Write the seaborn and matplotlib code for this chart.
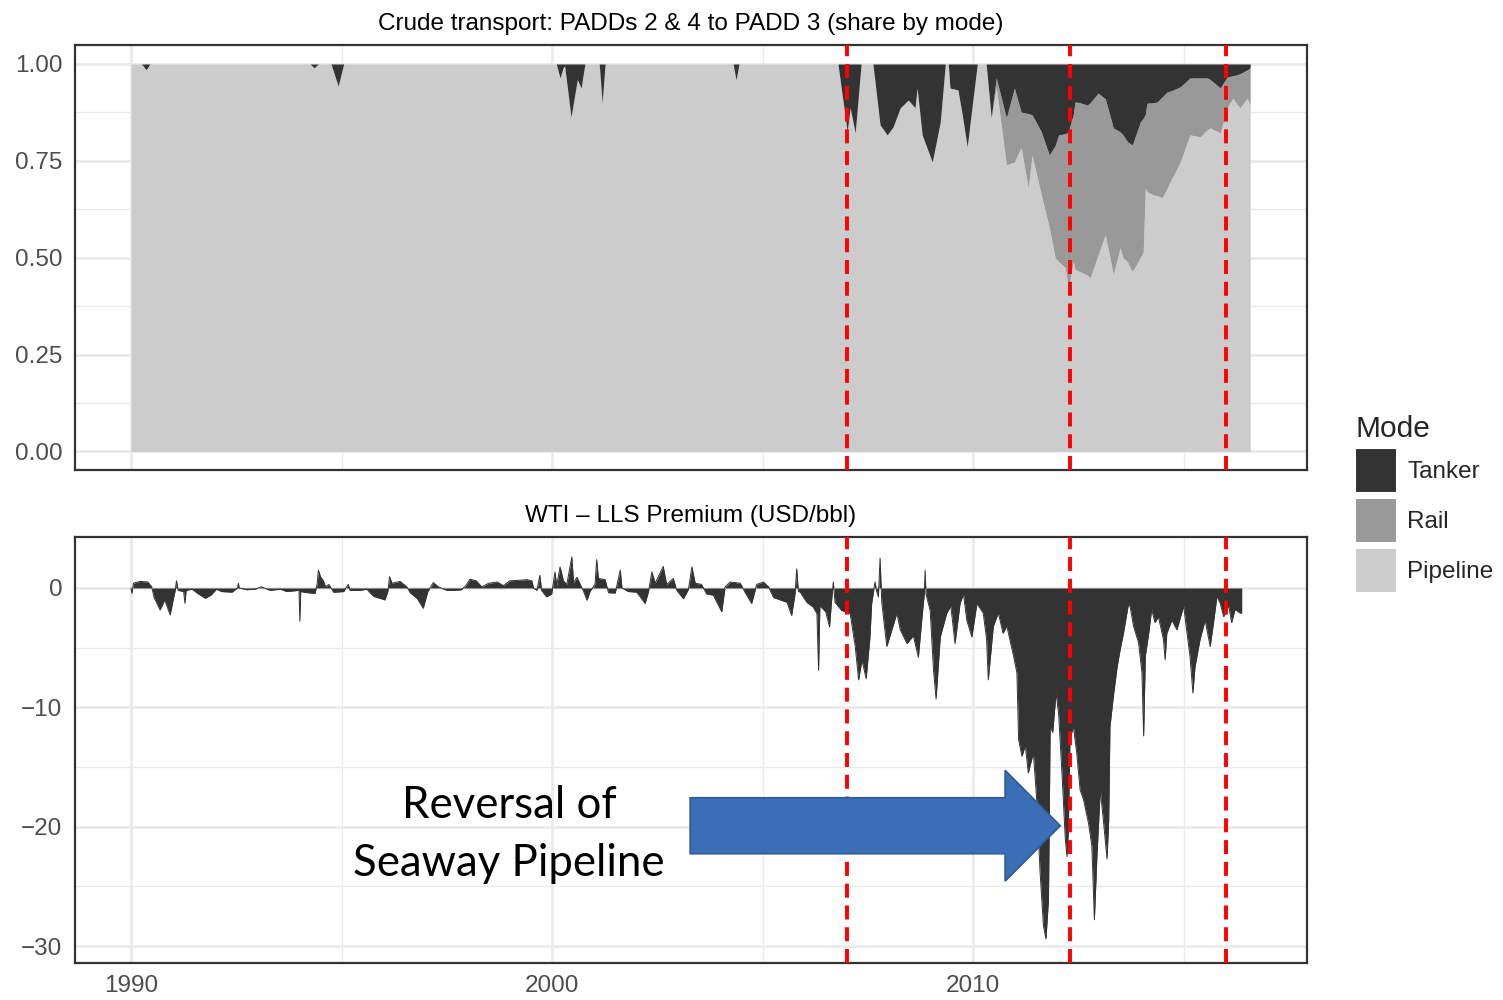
import matplotlib
matplotlib.use("Agg")
import matplotlib.pyplot as plt
from matplotlib.patches import Patch, FancyArrow
from matplotlib.ticker import MultipleLocator
import seaborn as sns

sns.set_style("whitegrid")
plt.rcParams['font.family'] = ['Liberation Sans', 'DejaVu Sans']

# share of crude moved from PADDs 2 & 4 to PADD 3, by mode
share_year = [1990.00, 1990.25, 1990.36, 1990.45, 1994.25, 1994.35, 1994.45, 1994.75, 1994.92, 1995.05,
              2000.10, 2000.19, 2000.26, 2000.30, 2000.45, 2000.60, 2000.69, 2000.78, 2001.12, 2001.19,
              2001.26, 2004.30, 2004.37, 2004.44, 2006.79, 2007.01, 2007.08, 2007.20, 2007.34, 2007.62,
              2007.79, 2007.96, 2008.10, 2008.27, 2008.46, 2008.62, 2008.67, 2008.79, 2009.03, 2009.22,
              2009.34, 2009.41, 2009.45, 2009.64, 2009.74, 2009.86, 2009.98, 2010.10, 2010.31, 2010.43,
              2010.55, 2010.79, 2010.98, 2011.14, 2011.31, 2011.40, 2011.62, 2011.81, 2011.95, 2012.03,
              2012.19, 2012.26, 2012.38, 2012.42, 2012.54, 2012.71, 2012.78, 2012.97, 2013.14, 2013.33,
              2013.49, 2013.56, 2013.66, 2013.78, 2013.97, 2014.04, 2014.09, 2014.13, 2014.28, 2014.37,
              2014.49, 2014.61, 2014.68, 2014.92, 2015.15, 2015.39, 2015.56, 2015.63, 2015.87, 2016.03,
              2016.17, 2016.27, 2016.34, 2016.51, 2016.58]
tanker = [0, 0, .015, 0, 0, .01, 0, 0, .057, 0,
          0, .036, .01, .005, .137, .04, .062, 0, 0, .10,
          0, 0, .041, 0, 0, .175, .113, .178, 0, 0,
          .157, .183, .162, .113, .093, .113, .062, .183, .253, .15,
          0, 0, .062, .067, .13, .214, .106, 0, 0, .139,
          .036, .139, .062, .124, .128, .131, .175, .235, .21, .183,
          .18, .175, .13, .098, .10, .106, .10, .075, .09, .165,
          .175, .183, .20, .209, .15, .14, .13, .101, .10, .098,
          .085, .072, .07, .059, .036, .036, .036, .04, .062, .034,
          .03, .028, .025, .015, .01]
rail = [0, 0, 0, 0, 0, 0, 0, 0, 0, 0,
        0, 0, 0, 0, 0, 0, 0, 0, 0, 0,
        0, 0, 0, 0, 0, 0, 0, 0, 0, 0,
        0, 0, 0, 0, 0, 0, 0, 0, 0, 0,
        0, 0, 0, 0, 0, 0, 0, 0, 0, 0,
        .024, .121, .191, .092, .192, .104, .163, .188, .29, .327,
        .346, .402, .38, .432, .436, .439, .452, .417, .351, .379,
        .299, .317, .31, .327, .35, .345, .19, .229, .238, .242,
        .26, .248, .234, .194, .147, .152, .134, .125, .116, .079,
        .058, .077, .088, .073, .096]
pipeline = [1, 1, .985, 1, 1, .99, 1, 1, .943, 1,
            1, .964, .99, .995, .863, .96, .938, 1, 1, .90,
            1, 1, .959, 1, 1, .825, .887, .822, 1, 1,
            .843, .817, .838, .887, .907, .887, .938, .817, .747, .85,
            1, 1, .938, .933, .87, .786, .894, 1, 1, .861,
            .94, .74, .747, .784, .68, .765, .662, .577, .50, .49,
            .474, .423, .49, .47, .464, .455, .448, .508, .559, .456,
            .526, .50, .49, .464, .50, .515, .68, .67, .662, .66,
            .655, .68, .696, .747, .817, .812, .83, .835, .822, .887,
            .912, .895, .887, .912, .894]

# WTI - LLS premium, USD/bbl
premium_year = [1990.00, 1990.02, 1990.06, 1990.21, 1990.40, 1990.49, 1990.55, 1990.69, 1990.80, 1990.93,
                1991.00, 1991.05, 1991.08, 1991.12, 1991.25, 1991.28, 1991.31, 1991.45, 1991.60, 1991.76,
                1991.90, 1992.03, 1992.15, 1992.40, 1992.53, 1992.55, 1992.57, 1992.75, 1992.95, 1993.10,
                1993.30, 1993.55, 1993.70, 1993.99, 1994.01, 1994.03, 1994.20, 1994.37, 1994.42, 1994.45,
                1994.50, 1994.57, 1994.62, 1994.70, 1994.81, 1995.05, 1995.16, 1995.20, 1995.44, 1995.60,
                1995.76, 1996.03, 1996.10, 1996.14, 1996.20, 1996.39, 1996.55, 1996.63, 1996.80, 1996.94,
                1997.05, 1997.18, 1997.30, 1997.50, 1997.66, 1997.85, 1997.95, 1998.05, 1998.20, 1998.33,
                1998.50, 1998.70, 1998.84, 1999.00, 1999.24, 1999.40, 1999.52, 1999.56, 1999.64, 1999.71,
                1999.75, 1999.87, 1999.99, 2000.07, 2000.11, 2000.19, 2000.27, 2000.35, 2000.47, 2000.51,
                2000.59, 2000.67, 2000.75, 2000.83, 2000.90, 2001.02, 2001.06, 2001.10, 2001.26, 2001.34,
                2001.50, 2001.62, 2001.66, 2001.81, 2002.01, 2002.21, 2002.29, 2002.37, 2002.45, 2002.64,
                2002.72, 2002.88, 2002.96, 2003.12, 2003.24, 2003.32, 2003.40, 2003.55, 2003.67, 2003.83,
                2004.03, 2004.11, 2004.23, 2004.47, 2004.59, 2004.74, 2004.86, 2005.02, 2005.14, 2005.26,
                2005.42, 2005.58, 2005.69, 2005.77, 2005.81, 2005.85, 2005.89, 2006.05, 2006.20, 2006.29,
                2006.33, 2006.36, 2006.50, 2006.59, 2006.64, 2006.68, 2006.72, 2006.88, 2007.00, 2007.08,
                2007.20, 2007.28, 2007.36, 2007.46, 2007.55, 2007.59, 2007.67, 2007.71, 2007.75, 2007.79,
                2007.83, 2007.95, 2008.07, 2008.19, 2008.27, 2008.43, 2008.58, 2008.70, 2008.78, 2008.84,
                2008.86, 2008.88, 2008.98, 2009.06, 2009.12, 2009.22, 2009.37, 2009.47, 2009.57, 2009.69,
                2009.77, 2009.85, 2009.97, 2010.09, 2010.24, 2010.32, 2010.36, 2010.48, 2010.60, 2010.71,
                2010.80, 2010.96, 2011.04, 2011.08, 2011.16, 2011.24, 2011.31, 2011.43, 2011.51, 2011.59,
                2011.67, 2011.73, 2011.79, 2011.83, 2011.89, 2011.97, 2012.03, 2012.11, 2012.19, 2012.23,
                2012.26, 2012.30, 2012.38, 2012.46, 2012.54, 2012.62, 2012.74, 2012.82, 2012.88, 2012.94,
                2013.02, 2013.10, 2013.18, 2013.22, 2013.25, 2013.33, 2013.42, 2013.49, 2013.57, 2013.69,
                2013.73, 2013.81, 2013.93, 2014.01, 2014.05, 2014.09, 2014.17, 2014.24, 2014.32, 2014.40,
                2014.52, 2014.56, 2014.60, 2014.72, 2014.84, 2015.00, 2015.07, 2015.15, 2015.22, 2015.27,
                2015.39, 2015.51, 2015.63, 2015.71, 2015.79, 2015.87, 2015.95, 2016.07, 2016.14, 2016.22,
                2016.34, 2016.38]
premium = [0.0, -0.45, 0.4, 0.55, 0.5, 0.1, -0.8, -1.84, -1.0, -2.26,
           -1.0, -0.2, 0.6, -0.2, -0.3, -1.28, -0.2, -0.1, -0.5, -0.86,
           -0.6, -0.1, -0.3, -0.35, 0.0, 0.4, 0.0, -0.15, -0.1, 0.1,
           -0.2, -0.1, -0.3, -0.2, -2.8, -0.3, -0.4, -0.45, 0.3, 1.5,
           0.95, 0.6, 0.1, 0.3, -0.36, -0.3, 0.3, -0.2, -0.2, -0.1,
           -0.7, -1.0, -0.3, 0.95, 0.4, 0.55, 0.1, -0.4, -0.9, -1.7,
           -0.3, 0.45, 0.1, -0.2, -0.2, -0.15, 0.2, 0.73, 0.6, 0.1,
           0.4, 0.5, 0.2, 0.6, 0.65, 0.7, 0.6, 0.0, -0.2, 1.06,
           -0.2, -0.75, -0.5, 1.34, 0.2, 1.76, 0.6, 0.3, 2.6, 0.4,
           0.9, 0.3, -0.3, -1.03, -0.3, 0.3, 2.37, 0.8, 0.7, -0.4,
           -0.42, 1.5, 0.0, -0.3, -0.35, -1.3, -0.3, 1.34, 0.4, 1.81,
           0.3, 0.8, -0.2, -0.9, -0.1, 1.76, 0.4, 0.3, -0.5, -0.6,
           -2.0, 0.1, 0.5, 0.4, -0.4, -1.3, 0.3, 0.5, 0.1, -0.8,
           -1.0, -1.2, -2.3, -0.5, 1.6, -0.3, -0.33, -1.2, -1.6, -2.15,
           -6.9, -1.5, -2.0, -3.26, -1.0, 0.5, -1.2, -1.9, -2.0, -2.15,
           -4.9, -7.7, -6.05, -7.6, -4.1, -1.3, 0.5, -0.3, -0.75, 2.5,
           -1.2, -4.9, -3.5, -2.1, -3.5, -4.66, -4.0, -5.8, -2.7, -0.5,
           1.5, -0.5, -1.9, -6.9, -9.3, -4.1, -2.15, -1.5, -4.66, -1.3,
           -0.5, -2.7, -4.1, -1.3, -2.1, -4.3, -7.7, -3.2, -2.1, -3.8,
           -3.2, -5.7, -7.1, -12.7, -14.1, -13.2, -15.5, -13.8, -17.7, -23.8,
           -28.3, -29.4, -26.1, -11.6, -12.1, -8.8, -10.5, -15.5, -21.1, -22.5,
           -20.5, -12.7, -11.6, -13.8, -16.9, -17.7, -19.7, -21.6, -27.8, -22.5,
           -16.9, -19.7, -22.7, -19.5, -11.6, -9.1, -6.6, -5.2, -3.8, -1.3,
           -1.6, -3.2, -4.6, -7.1, -12.4, -5.7, -3.8, -1.8, -2.9, -2.4,
           -4.3, -6.0, -3.8, -2.7, -3.5, -1.5, -3.5, -5.7, -8.8, -6.6,
           -4.3, -2.7, -4.9, -2.9, -0.7, -1.3, -2.4, -1.5, -2.9, -1.8,
           -2.1, -2.1]

events = [2007.0, 2012.3, 2016.0]
modes = ["Tanker", "Rail", "Pipeline"]
mode_colors = {"Tanker": "#333333", "Rail": "#999999", "Pipeline": "#CCCCCC"}

GRID = "#EBEBEB"
BORDER = "#333333"
TICKTXT = "#4D4D4D"
FS = 17.5


def style_panel(ax):
    ax.set_facecolor("white")
    for s in ax.spines.values():
        s.set_visible(True)
        s.set_color(BORDER)
        s.set_linewidth(1.6)
    ax.grid(which="major", color=GRID, linewidth=2.0)
    ax.grid(which="minor", color=GRID, linewidth=1.0)
    ax.set_axisbelow(True)
    ax.tick_params(axis="both", which="major", length=5, width=1.6, color=BORDER,
                   labelsize=FS, labelcolor=TICKTXT, pad=4)
    ax.tick_params(axis="both", which="minor", length=0)
    ax.set_xlim(1988.67, 2017.93)
    ax.xaxis.set_major_locator(MultipleLocator(10))
    ax.xaxis.set_minor_locator(MultipleLocator(5))
    for x in events:
        ax.axvline(x, color="#FF0000", linewidth=2.8, dashes=(3.6, 2.0), zorder=5)
    ax.set_xlabel("")
    ax.set_ylabel("")


fig = plt.figure(figsize=(15.03, 10), dpi=100)
ax1 = fig.add_axes([0.0499, 0.530, 0.8197, 0.425])
ax2 = fig.add_axes([0.0499, 0.037, 0.8197, 0.426])

# top panel: stacked shares
ax1.stackplot(share_year, pipeline, rail, tanker,
              colors=[mode_colors["Pipeline"], mode_colors["Rail"], mode_colors["Tanker"]],
              linewidth=0, zorder=2)
style_panel(ax1)
ax1.set_ylim(-0.048, 1.049)
ax1.yaxis.set_major_locator(MultipleLocator(0.25))
ax1.yaxis.set_minor_locator(MultipleLocator(0.125))
ax1.yaxis.set_major_formatter(matplotlib.ticker.FormatStrFormatter("%.2f"))
ax1.tick_params(axis="x", which="both", bottom=False, labelbottom=False)
ax1.set_title("Crude transport: PADDs 2 & 4 to PADD 3 (share by mode)",
              fontsize=FS, color="black", pad=11)

# bottom panel: WTI - LLS premium
ax2.fill_between(premium_year, premium, 0, color="#333333", linewidth=0, zorder=2)
sns.lineplot(x=premium_year, y=premium, ax=ax2, color="#333333", linewidth=0.7,
             estimator=None, sort=False, zorder=3)
style_panel(ax2)
ax2.set_ylim(-31.42, 4.27)
ax2.yaxis.set_major_locator(MultipleLocator(10))
ax2.yaxis.set_minor_locator(MultipleLocator(5))
ax2.yaxis.set_major_formatter(matplotlib.ticker.FuncFormatter(
    lambda v, p: "{:d}".format(int(round(v))).replace("-", "\u2212")))
ax2.set_title("WTI \u2013 LLS Premium (USD/bbl)", fontsize=FS, color="black", pad=11)

# annotation
ax2.add_patch(FancyArrow(2003.28, -19.92, 8.79, 0, width=4.69, head_width=9.29,
                         head_length=1.31, length_includes_head=True,
                         facecolor="#3A6FB7", edgecolor="#2F5A96", linewidth=1.2, zorder=6))
ax2.text(1998.98, -20.65, "Reversal of\nSeaway Pipeline", ha="center", va="center",
         fontsize=31.5, family=["Lato", "DejaVu Sans"], color="black", linespacing=1.5, zorder=6)

handles = [Patch(facecolor=mode_colors[m], edgecolor="white", linewidth=1.5) for m in modes]
leg = fig.legend(handles, modes, title="Mode", loc="upper left",
                 bbox_to_anchor=(1355 / 1503, 1 - 415 / 1000), frameon=False,
                 fontsize=FS, title_fontsize=21.5, handlelength=1.73, handleheight=2.5,
                 labelspacing=0.19, handletextpad=0.42, borderpad=0, borderaxespad=0)
leg._legend_box.align = "left"

fig.savefig("out.png", dpi=100)
